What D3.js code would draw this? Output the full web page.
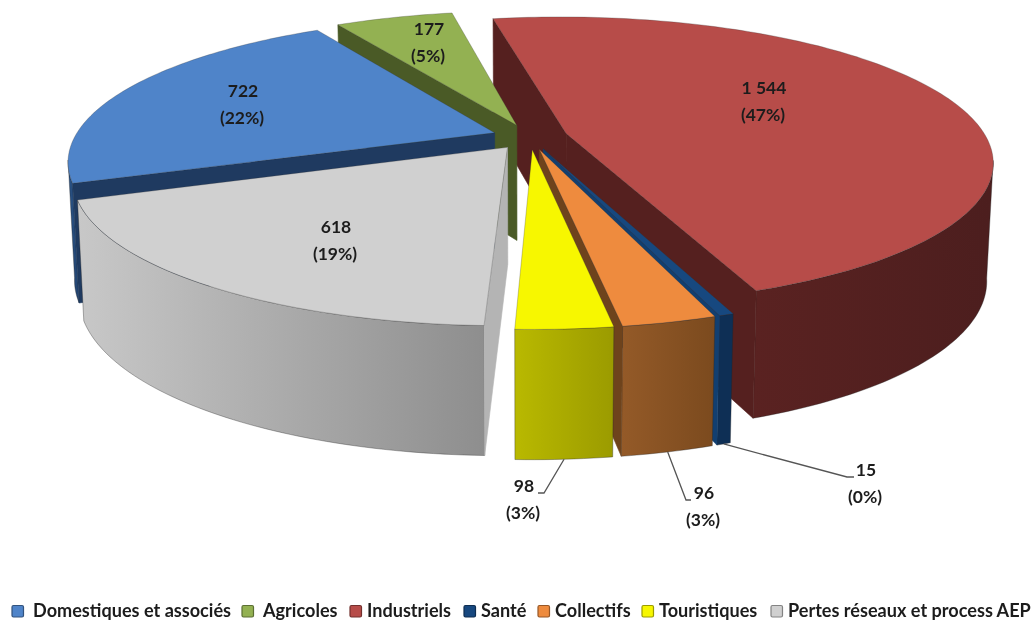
<!DOCTYPE html>
<html>
<head>
<meta charset="utf-8">
<script src="https://cdn.jsdelivr.net/npm/d3@7"></script>
<style>
  html, body { margin: 0; background: #fff; }
  svg { display: block; filter: blur(0.35px); }
  text { font-family: Lato, "Open Sans", sans-serif; font-weight: 700; fill: #1c1c1c; }
</style>
</head>
<body>
<svg></svg>
<script>
const width = 1035;
const height = 620;

// data, in legend order
const categories = ['Domestiques et associés', 'Agricoles', 'Industriels', 'Santé', 'Collectifs', 'Touristiques', 'Pertes réseaux et process AEP'];
const values = [722, 177, 1544, 15, 96, 98, 618];

// colours per slice: top face, cut wall, outer wall left / right
const topColors = ['#4f84c9', '#93b152', '#b74c49', '#17487f', '#ee8b3e', '#f7f700', '#d0d0d0'];
const cutColors = ['#1f3a60', '#4a5a26', '#55201f', '#123f70', '#6e431c', '#8f8f00', '#b4b4b4'];
const wallLeft = ['#2a5488', '#5c7030', '#5a2221', '#0e2f55', '#945a28', '#b9b900', '#c8c8c8'];
const wallRight = ['#23436e', '#50622a', '#4c1e1e', '#0e2f55', '#7b4a1e', '#9b9b00', '#8e8e8e'];

// projection settings for the tilted pie
const pieSettings = { cx: 530, cy: 137, rx: 420, ry: 140, depth: 116, depthPow: 0.5, persp: 0.19, explode: 0.09, bottomShrink: 0.986, startDeg: -110 };

// text anchors: [x, y of first line]
const labelPos = [[243, 97], [429, 35], [764, 94], [866, 476], [704, 499], [524, 492], [336, 233]];
const lineGap = 27;
// leader elbows for the small slices
const leaders = { 3: [[847, 477], [854, 477]], 4: [[686, 500], [691, 500]], 5: [[544, 493], [538, 493]] };
// legend layout
const swatchX = [12, 242, 350, 464, 538, 642, 771];
const legendTextX = [33, 263, 367, 481, 555, 659, 788];

const drawOrder = [2, 1, 0, 6, 3, 4, 5];

const svg = d3.select('svg').attr('width', width).attr('height', height);
const defs = svg.append('defs');

const total = d3.sum(values);
const pct = v => '(' + Math.round(v / total * 100) + '%)';
const fmtValue = v => d3.format(',')(v).replace(',', ' ');

const pie = d3.pie().sort(null)
    .startAngle(pieSettings.startDeg * Math.PI / 180)
    .endAngle((360 + pieSettings.startDeg) * Math.PI / 180);
const arcs = pie(values);

const project = (angle, r, mid, down) => {
    const p = pieSettings;
    const u = r * Math.sin(angle) + p.explode * Math.sin(mid);
    const v = -r * Math.cos(angle) - p.explode * Math.cos(mid);
    const s = 1 / (1 - p.persp * v);
    const shrink = down ? p.bottomShrink : 1;
    return [p.cx + p.rx * u * s * shrink, p.cy + p.ry * v * s + (down ? p.depth * Math.pow(s, p.depthPow) : 0)];
};

const line = d3.line();
const rimAngles = a => {
    const n = Math.max(2, Math.ceil((a.endAngle - a.startAngle) / 0.02));
    return d3.range(n + 1).map(i => a.startAngle + (a.endAngle - a.startAngle) * i / n);
};

// a cut wall shows only if the top face is on the other side of the edge than "down"
const wallVisible = (apex, t, w) => {
    const ex = t[0] - apex[0], ey = t[1] - apex[1];
    return (ex * (w[1] - apex[1]) - ey * (w[0] - apex[0])) * ex < 0;
};

const g = svg.append('g');

drawOrder.forEach(i => {
    const a = arcs[i];
    const mid = (a.startAngle + a.endAngle) / 2;
    const angles = rimAngles(a);
    const top = angles.map(t => project(t, 1, mid, false));
    const apexTop = project(0, 0, mid, false);
    const apexBottom = project(0, 0, mid, true);
    const inner = top[Math.floor(top.length / 2)];

    const grad = defs.append('linearGradient').attr('id', 'wall' + i)
        .attr('x1', 0).attr('x2', 1).attr('y1', 0).attr('y2', 0);
    grad.append('stop').attr('offset', 0).attr('stop-color', wallLeft[i]);
    grad.append('stop').attr('offset', 1).attr('stop-color', wallRight[i]);

    const slice = g.append('g').attr('class', 'slice');

    // outer wall, from the silhouette of the rim to the front
    const front = angles.filter(t => Math.cos(t) < -pieSettings.persp * 0.9);
    if (front.length > 1) {
        const frontTop = front.map(t => project(t, 1, mid, false));
        const frontBottom = front.map(t => project(t, 1, mid, true));
        slice.append('path')
            .attr('d', line(frontTop.concat(frontBottom.reverse())) + 'Z')
            .attr('fill', 'url(#wall' + i + ')')
            .attr('stroke', '#222').attr('stroke-opacity', 0.5).attr('stroke-width', 0.7);
    }
    // cut walls
    [0, angles.length - 1].forEach(k => {
        if (!wallVisible(apexTop, top[k], inner)) return;
        slice.append('path')
            .attr('d', line([apexTop, top[k], project(angles[k], 1, mid, true), apexBottom]) + 'Z')
            .attr('fill', cutColors[i])
            .attr('stroke', cutColors[i]).attr('stroke-width', 0.6);
    });
    // top face
    slice.append('path')
        .attr('d', line([apexTop].concat(top)) + 'Z')
        .attr('fill', topColors[i])
        .attr('stroke', '#333').attr('stroke-opacity', 0.45).attr('stroke-width', 0.6);
});

// leaders for the outside labels
Object.keys(leaders).forEach(k => {
    const a = arcs[k];
    const mid = (a.startAngle + a.endAngle) / 2;
    svg.append('path')
        .attr('d', line([project(mid, 1, mid, true)].concat(leaders[k])))
        .attr('fill', 'none')
        .attr('stroke', '#555')
        .attr('stroke-width', 1.3);
});

// value labels
const labels = svg.selectAll('g.label').data(arcs).enter().append('g').attr('class', 'label');
labels.append('text')
    .attr('x', (d, i) => labelPos[i][0])
    .attr('y', (d, i) => labelPos[i][1])
    .attr('text-anchor', 'middle')
    .attr('font-size', 17.5)
    .text(d => fmtValue(d.value));
labels.append('text')
    .attr('x', (d, i) => labelPos[i][0] - 1)
    .attr('y', (d, i) => labelPos[i][1] + lineGap)
    .attr('text-anchor', 'middle')
    .attr('font-size', 17.5)
    .text(d => pct(d.value));

// legend
const legend = svg.selectAll('g.legend').data(categories).enter().append('g').attr('class', 'legend');
legend.append('rect')
    .attr('x', (d, i) => swatchX[i]).attr('y', 605.5)
    .attr('width', 11.5).attr('height', 11.5).attr('rx', 1.5)
    .attr('fill', (d, i) => topColors[i])
    .attr('stroke', (d, i) => d3.color(topColors[i]).darker(1.3))
    .attr('stroke-width', 1.2);
legend.append('text')
    .attr('x', (d, i) => legendTextX[i]).attr('y', 617)
    .attr('font-size', 18.1)
    .text(d => d);
</script>
</body>
</html>
